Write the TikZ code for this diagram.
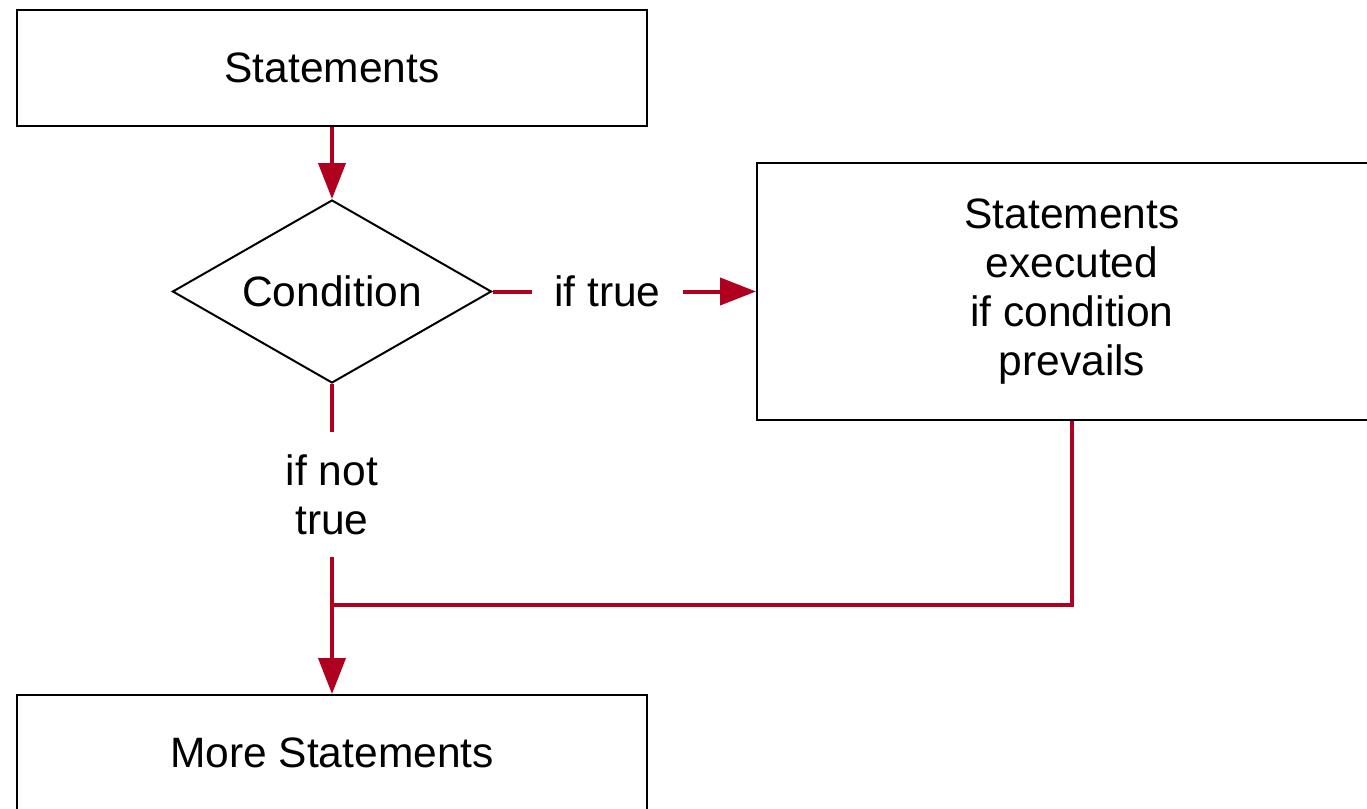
\documentclass[tikz,border=0pt]{standalone}
\usepackage{fontspec}
\setmainfont{Liberation Sans}
\usetikzlibrary{shapes.geometric,arrows.meta}
\definecolor{flowred}{RGB}{176,0,32}
\tikzset{
  box/.style={draw=black, line width=2pt, rectangle, minimum width=630pt, inner sep=0pt, align=center, font=\fontsize{42.5}{49}\selectfont},
  decision/.style={draw=black, line width=2pt, diamond, aspect=1.74, minimum width=319pt, minimum height=183pt, inner sep=0pt, font=\fontsize{42.5}{49}\selectfont},
  flow/.style={draw=flowred, line width=4pt},
  flowarrow/.style={flow, -{Triangle[width=27pt,length=36pt]}},
  flowlabel/.style={fill=white, inner xsep=22pt, inner ysep=0pt, align=center, font=\fontsize{42.5}{49}\selectfont, text=black}
}
\begin{document}
\begin{tikzpicture}[x=1pt,y=-1pt]
\clip (0,0) rectangle (1367,808);
\fill[white] (0,0) rectangle (1367,808);
\node[box, minimum height=116pt] (top) at (332,68) {Statements};
\node[decision] (cond) at (332,291.5) {Condition};
\node[box, minimum height=257pt] (body) at (1072,291.5) {Statements\\executed\\if condition\\prevails};
\node[box, minimum height=116pt] (more) at (332,753) {More Statements};
\coordinate (join) at (332,605);
\draw[flowarrow] (top.south) -- (cond.north);
\draw[flowarrow] (cond.east) -- node[flowlabel, pos=0.436] {if true} (body.west);
\draw[flow] (cond.south) -- node[flowlabel, inner xsep=4pt, minimum height=125pt] {if not\\true} (join);
\draw[flow] (body.south) |- (join);
\draw[flowarrow] (join) -- (more.north);
\end{tikzpicture}
\end{document}
